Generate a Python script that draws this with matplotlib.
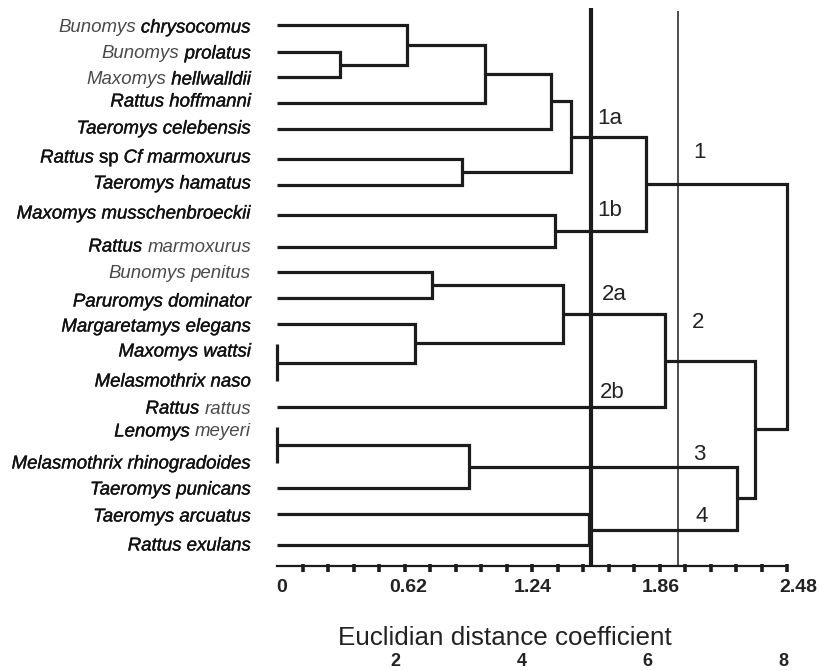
import matplotlib
matplotlib.use("Agg")
import matplotlib.pyplot as plt
import matplotlib.patheffects as pe

# leaves, top to bottom
species = [
    "Bunomys chrysocomus", "Bunomys prolatus", "Maxomys hellwalldii",
    "Rattus hoffmanni", "Taeromys celebensis", "Rattus sp Cf marmoxurus",
    "Taeromys hamatus", "Maxomys musschenbroeckii", "Rattus marmoxurus",
    "Bunomys penitus", "Paruromys dominator", "Margaretamys elegans",
    "Maxomys wattsi", "Melasmothrix naso", "Rattus rattus",
    "Lenomys meyeri", "Melasmothrix rhinogradoides", "Taeromys punicans",
    "Taeromys arcuatus", "Rattus exulans",
]

# merges: (child a, child b, distance); new nodes numbered from 20 on
merges = [
    (1, 2, 0.306), (0, 20, 0.632), (21, 3, 1.012), (22, 4, 1.333),
    (5, 6, 0.900), (23, 24, 1.430), (7, 8, 1.352), (25, 26, 1.795),
    (9, 10, 0.754), (12, 13, 0.0), (11, 29, 0.671), (28, 30, 1.391),
    (31, 14, 1.887), (15, 16, 0.0), (33, 17, 0.934), (18, 19, 1.518),
    (34, 35, 2.237), (32, 36, 2.325), (27, 37, 2.48),
]

cut_main = 1.527
cut_second = 1.950
axis_max = 2.48
tick_step = 0.124
tick_values = [0, 0.62, 1.24, 1.86, 2.48]
tick_labels = ["0", "0.62", "1.24", "1.86", "2.48"]
lower_labels = ["2", "4", "6", "8"]
cluster_names = ["1a", "1b", "2a", "2b", "1", "2", "3", "4"]

# ---- layout / style (pixel rows of a 820x671 canvas) ----
leaf_rows = [25, 52, 77, 103, 129, 159, 185, 215, 247, 272, 298, 324,
             344, 381, 407, 427, 463, 488, 514, 545]
text_rows = [26, 52, 78, 100, 127, 156, 182, 212, 245, 272, 300, 325,
             350, 380, 407, 430, 462, 488, 515, 544]
# word tones: l = light italic, d = dark italic, n = dark upright
word_tones = ["ld", "ld", "ld", "dd", "dd", "dndd", "dd", "dd", "dl", "ll",
              "dd", "dd", "dd", "dd", "dl", "dl", "dd", "dd", "dd", "dd"]
cluster_pos = [(1.556, 118), (1.556, 210), (1.580, 295), (1.571, 393),
               (2.023, 152), (2.018, 323), (2.023, 455), (2.033, 517)]
tick_label_x = [0.024, 0.637, 1.245, 1.867, 2.533]
lower_x = [0.574, 1.191, 1.799, 2.460]

PX = 205.65   # pixels per distance unit
X0 = 277      # pixel of distance 0
AXIS_Y = 566
LINE = "#1c1c1c"

fig = plt.figure(figsize=(8.2, 6.71), dpi=100)
ax = fig.add_axes([0, 0, 1, 1])
ax.set_xlim(-X0 / PX, (820 - X0) / PX)
ax.set_ylim(671, 0)
ax.axis("off")

# dendrogram
height = {i: 0.0 for i in range(len(species))}
ypos = {i: y for i, y in enumerate(leaf_rows)}
for k, (a, b, d) in enumerate(merges):
    node = len(species) + k
    ax.plot([height[a], d, d, height[b]], [ypos[a], ypos[a], ypos[b], ypos[b]],
            color=LINE, lw=2.3, solid_capstyle="butt", solid_joinstyle="miter")
    height[node] = d
    ypos[node] = (ypos[a] + ypos[b]) / 2

# cut lines
ax.plot([cut_main, cut_main], [8, AXIS_Y], color=LINE, lw=3.0, solid_capstyle="butt")
ax.plot([cut_second, cut_second], [11, AXIS_Y], color=LINE, lw=1.1, solid_capstyle="butt")

# axis
ax.plot([0, axis_max], [AXIS_Y, AXIS_Y], color=LINE, lw=1.6)
n_ticks = int(round(axis_max / tick_step))
tx = [i * tick_step for i in range(1, n_ticks + 1)]
ax.plot(tx, [AXIS_Y + 2] * len(tx), ls="none", marker="|", ms=6, mew=2.6, color=LINE)

for x, t in zip(tick_label_x, tick_labels):
    ax.text(x, 588, t, ha="center", va="center", fontsize=14, fontweight="bold",
            family="Liberation Sans", color="#222222")
ax.text(1.109, 638, "Euclidian distance coefficient", ha="center", va="center",
        fontsize=18.7, family="Liberation Sans", color="#222222")
for x, t in zip(lower_x, lower_labels):
    ax.text(x, 662, t, ha="center", va="center", fontsize=13, fontweight="bold",
            family="Liberation Sans", color="#222222")

for name, (x, y) in zip(cluster_names, cluster_pos):
    ax.text(x, y, name, ha="left", va="center", fontsize=16,
            family="Liberation Sans", color="#222222")

# species labels, right aligned, word by word
fig.canvas.draw()
renderer = fig.canvas.get_renderer()
gap_px = 5.0
right_px = 251
for name, tones, y in zip(species, word_tones, text_rows):
    x_px = right_px
    for word, tone in reversed(list(zip(name.split(), tones))):
        xd = (x_px - X0) / PX
        style = "normal" if tone == "n" else "italic"
        color = "#4a4a4a" if tone == "l" else "#111111"
        t = ax.text(xd, y, word, ha="right", va="center_baseline", fontsize=13.4,
                    style=style, family="Liberation Sans", color=color)
        if tone != "l":
            t.set_path_effects([pe.withStroke(linewidth=0.25, foreground=color)])
        w = t.get_window_extent(renderer).width
        x_px -= w + gap_px

fig.savefig("out.png", dpi=100)
